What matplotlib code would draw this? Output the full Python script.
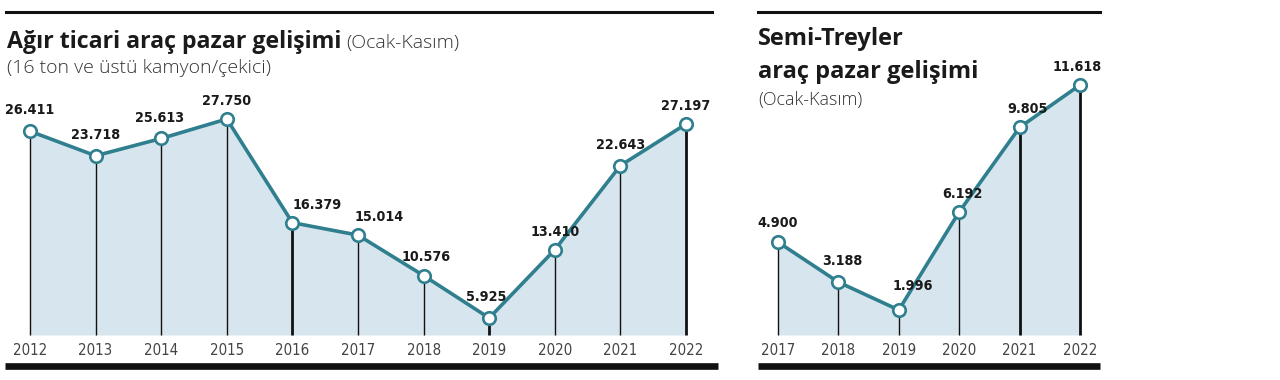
import matplotlib
matplotlib.use("Agg")
import matplotlib.pyplot as plt
from matplotlib.lines import Line2D
from matplotlib import font_manager as fm

# ---- data ----
years_left = [2012, 2013, 2014, 2015, 2016, 2017, 2018, 2019, 2020, 2021, 2022]
values_left = [26411, 23718, 25613, 27750, 16379, 15014, 10576, 5925, 13410, 22643, 27197]
labels_left = ["26.411", "23.718", "25.613", "27.750", "16.379", "15.014", "10.576",
               "5.925", "13.410", "22.643", "27.197"]

years_right = [2017, 2018, 2019, 2020, 2021, 2022]
values_right = [4900, 3188, 1996, 6192, 9805, 11618]
labels_right = ["4.900", "3.188", "1.996", "6.192", "9.805", "11.618"]

title_left = "Ağır ticari araç pazar gelişimi"
title_left_note = "(Ocak-Kasım)"
subtitle_left = "(16 ton ve üstü kamyon/çekici)"
title_right_1 = "Semi-Treyler"
title_right_2 = "araç pazar gelişimi"
subtitle_right = "(Ocak-Kasım)"

# ---- style ----
W, H = 1280, 380
LINE = "#2f7f8f"
FILL = "#d7e6ee"
TXT = "#1a1a1a"
YEARC = "#444444"
TITLE_FONT = ["Open Sans", "DejaVu Sans"]

# find condensed fonts if present
cond_reg = None
cond_bold = None
for f in fm.fontManager.ttflist:
    fn = f.fname.lower()
    if "dejavusanscondensed" in fn.replace("-", "").replace("_", ""):
        if "bold" in fn and "oblique" not in fn:
            cond_bold = f.fname
        elif "oblique" not in fn and "bold" not in fn:
            cond_reg = f.fname
NUM_BOLD = fm.FontProperties(fname=cond_bold, size=10.3) if cond_bold else \
    fm.FontProperties(family="DejaVu Sans", weight="bold", size=9.5)
YEAR_PROP = fm.FontProperties(fname=cond_reg, size=10.8) if cond_reg else \
    fm.FontProperties(family="DejaVu Sans", size=9.5)

fig = plt.figure(figsize=(W / 100, H / 100), dpi=100)
fig.patch.set_facecolor("white")


def fx(px):
    return px / W


def fy(py):
    return 1 - py / H


def make_axes(x0, x1, y_top, y_bot):
    return fig.add_axes([fx(x0), fy(y_bot), fx(x1) - fx(x0), (y_bot - y_top) / H])


def draw_panel(ax, years, vals, labels, ylim, thick, offs):
    ax.set_xlim(years[0], years[-1])
    ax.set_ylim(*ylim)
    ax.axis("off")
    base = ylim[0]
    ax.fill_between(years, vals, base, color=FILL, lw=0, zorder=1)
    for i, (x, v) in enumerate(zip(years, vals)):
        ax.plot([x, x], [base, v], color="#111111",
                lw=2.0 if i in thick else 1.0, zorder=2, clip_on=False,
                solid_capstyle="butt")
    ax.plot(years, vals, color=LINE, lw=2.6, zorder=3, clip_on=False,
            solid_joinstyle="round")
    ax.plot(years, vals, "o", ms=9, mfc="white", mec=LINE, mew=1.9,
            zorder=4, clip_on=False)
    for i, (x, v, lab) in enumerate(zip(years, vals, labels)):
        dx, dy = offs[i]
        ax.annotate(lab, (x, v), xytext=(dx, dy), textcoords="offset points",
                    ha="center", va="bottom", fontproperties=NUM_BOLD,
                    color=TXT, annotation_clip=False)
        ax.annotate(str(x), (x, base), xytext=(0, -6), textcoords="offset points",
                    ha="center", va="top", fontproperties=YEAR_PROP, color=YEARC,
                    annotation_clip=False)


# left panel: px mapping 2012->30, 2022->686 ; value 27750->y119, 5925->y318
upp_l = (27750 - 5925) / (318 - 119)
ax1 = make_axes(30, 686, 100, 335)
ylim_l = (5925 - (335 - 318) * upp_l, 27750 + (119 - 100) * upp_l)
offs_l = [(0, 10), (0, 10), (-1, 10), (0, 8), (18, 8), (15, 8), (2, 8), (-2, 10),
          (0, 8), (0, 10), (0, 8)]
draw_panel(ax1, years_left, values_left, labels_left, ylim_l, {4, 7, 10}, offs_l)

# right panel: 2017->778, 2022->1080 ; 11618->y85, 1996->y310
upp_r = (11618 - 1996) / (310 - 85)
ax2 = make_axes(778, 1080, 70, 335)
ylim_r = (1996 - (335 - 310) * upp_r, 11618 + (85 - 70) * upp_r)
offs_r = [(0, 9), (3, 10), (10, 12), (2, 8), (6, 8), (-2, 8)]
draw_panel(ax2, years_right, values_right, labels_right, ylim_r, {4, 5}, offs_r)

# rules
fig.add_artist(Line2D([fx(6), fx(712)], [fy(11.5), fy(11.5)], color="#111111", lw=2.2))
fig.add_artist(Line2D([fx(5), fx(718)], [fy(366), fy(366)], color="#111111", lw=4.8,
                      solid_capstyle="butt"))
fig.add_artist(Line2D([fx(758), fx(1100)], [fy(11.5), fy(11.5)], color="#111111", lw=2.2))
fig.add_artist(Line2D([fx(758), fx(1100)], [fy(366), fy(366)], color="#111111", lw=4.8,
                      solid_capstyle="butt"))

# titles
t = fig.text(fx(7), fy(48), title_left, fontsize=16.7, fontweight="bold",
             family=TITLE_FONT, color=TXT, va="baseline", ha="left")
fig.canvas.draw()
bb = t.get_window_extent()
fig.text(bb.x1 / W + fx(5), fy(48), title_left_note, fontsize=14, fontweight="light",
         family=TITLE_FONT, color="#333333", va="baseline", ha="left")
fig.text(fx(7), fy(73), subtitle_left, fontsize=14, fontweight="light",
         family=TITLE_FONT, color="#333333", va="baseline", ha="left")

fig.text(fx(758), fy(45), title_right_1, fontsize=17, fontweight="bold",
         family=TITLE_FONT, color=TXT, va="baseline", ha="left")
fig.text(fx(758), fy(78), title_right_2, fontsize=17, fontweight="bold",
         family=TITLE_FONT, color=TXT, va="baseline", ha="left")
fig.text(fx(758), fy(105), subtitle_right, fontsize=13, fontweight="light",
         family=TITLE_FONT, color="#333333", va="baseline", ha="left")

fig.savefig("out.png", dpi=100, facecolor="white")
